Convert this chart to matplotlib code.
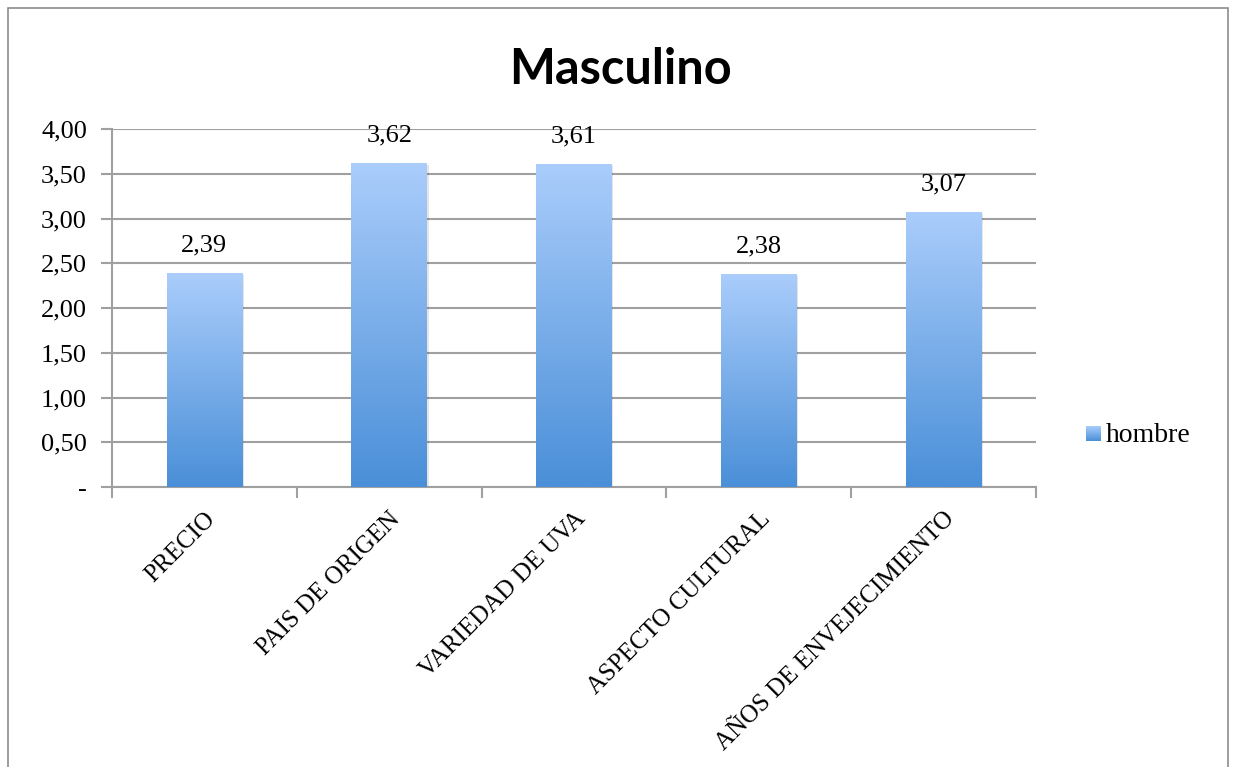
import numpy as np
import matplotlib.pyplot as plt
from matplotlib.patches import Rectangle
from matplotlib.ticker import FuncFormatter, FixedLocator
from matplotlib.colors import LinearSegmentedColormap

categorias = ['PRECIO', 'PAIS DE ORIGEN', 'VARIEDAD DE UVA',
              'ASPECTO CULTURAL', 'AÑOS DE ENVEJECIMIENTO']
valores = [2.39, 3.62, 3.61, 2.38, 3.07]
serie = 'hombre'

serif = ['Liberation Serif', 'DejaVu Serif']
gris = '#a0a0a0'

fig = plt.figure(figsize=(12.33, 7.67), dpi=100)
ax = fig.add_axes([112/1233, 1 - 487/767, (1036-112)/1233, (487-129)/767])

# marco exterior
fig.patches.append(Rectangle((8/1233, -0.05), (1228-8)/1233, 1.05 - 8/767,
                             transform=fig.transFigure, fill=False,
                             edgecolor='#8c8c8c', linewidth=1.2))

x = np.arange(len(categorias))
barras = ax.bar(x, valores, width=0.41, color='none', zorder=3)

# degradado en cada barra
cmap = LinearSegmentedColormap.from_list('azul', ['#4a8fd8', '#aacdfb'])
grad = np.linspace(0, 1, 256).reshape(-1, 1)
for b in barras:
    x0, y0 = b.get_x(), b.get_y()
    w, h = b.get_width(), b.get_height()
    # sombra
    ax.add_patch(Rectangle((x0 + 0.008, y0 - 0.02), w, h, facecolor='#000000',
                           alpha=0.10, edgecolor='none', zorder=2))
    im = ax.imshow(grad, cmap=cmap, origin='lower', aspect='auto',
                   extent=(x0, x0 + w, y0, y0 + h), zorder=3)
    im.set_clip_path(b)

for xi, v in zip(x, valores):
    ax.annotate(f'{v:.2f}'.replace('.', ','), (xi, v), xytext=(0, 12),
                textcoords='offset points', ha='center', va='bottom',
                fontsize=19, family=serif)

ax.set_xlim(-0.5, len(categorias) - 0.5)
ax.set_ylim(0, 4)
ax.set_yticks(np.arange(0, 4.01, 0.5))
ax.yaxis.set_major_formatter(FuncFormatter(
    lambda v, p: '-' if v == 0 else f'{v:.2f}'.replace('.', ',')))
ax.grid(axis='y', color=gris, linewidth=1.5, zorder=0)
ax.set_axisbelow(True)

ax.xaxis.set_major_locator(FixedLocator(np.arange(-0.5, len(categorias), 1)))
ax.set_xticklabels([])
ax.xaxis.set_minor_locator(FixedLocator(x))
ax.set_xticklabels(categorias, minor=True, rotation=45, ha='right',
                   rotation_mode='anchor', fontsize=18, family=serif)
ax.tick_params(axis='x', which='minor', length=0, pad=15)
ax.tick_params(axis='x', which='major', length=8, width=1.5, color=gris)
ax.tick_params(axis='y', length=8, width=1.5, color=gris, labelsize=19, pad=10)
for t in ax.get_yticklabels():
    t.set_family(serif)

for s in ['top', 'right']:
    ax.spines[s].set_visible(False)
ax.spines['left'].set_color(gris)
ax.spines['bottom'].set_color(gris)
ax.spines['left'].set_linewidth(1.5)
ax.spines['bottom'].set_linewidth(1.5)

fig.text(620/1233, 1 - 69/767, 'Masculino', ha='center', va='center',
         fontsize=35, fontweight='bold', family=['Lato', 'DejaVu Sans'])

# leyenda
ax_leg = fig.add_axes([1086/1233, 1 - 441/767, 15/1233, 15/767])
ax_leg.imshow(grad, cmap=cmap, origin='lower', aspect='auto', extent=(0, 1, 0, 1))
ax_leg.axis('off')
fig.text(1106/1233, 1 - 436/767, serie, ha='left', va='center',
         fontsize=20, family=serif)

fig.savefig('out.png', dpi=100)
